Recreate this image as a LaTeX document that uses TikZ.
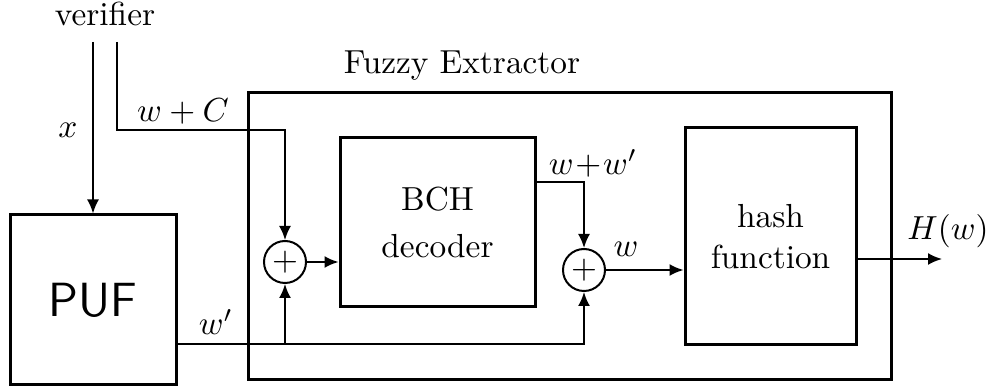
\documentclass[tikz,border=0pt]{standalone}
\usepackage{xcolor}
\usepackage{tikz}
\usetikzlibrary{arrows.meta,positioning,calc}
\usepackage{amsmath}

\begin{document}
\begin{tikzpicture}[x=0.3pt, y=-0.3pt, arr/.style={-{Latex[length=4.2pt,width=3.6pt]}, line width=0.6pt}, blk/.style={draw, line width=0.9pt, inner sep=0pt, align=center}, sumnode/.style={draw, circle, line width=0.6pt, minimum size=12.6pt, inner sep=0pt}]
	\useasboundingbox (0,0) rectangle (994,392);
	\node[blk, minimum width=192.9pt, minimum height=86.1pt] (fe) at (569.5,236.5) {};
	\node[blk, minimum width=49.8pt, minimum height=51pt, font=\sffamily\Large] (puf) at (93,300) {PUF};
	\node[blk, minimum width=58.5pt, minimum height=50.7pt] (bch) at (437.5,222.5) {BCH\\[2pt]decoder};
	\node[blk, minimum width=51.3pt, minimum height=65.1pt] (hash) at (770.5,236.5) {hash\\[0.5pt]function};
	\node[sumnode] (s1) at (285,262) {$+$};
	\node[sumnode] (s2) at (584,270) {$+$};
	\node (ver) at (105,14) {verifier};
	\node (title) at (462,66) {Fuzzy Extractor};
	\coordinate (vx) at (93,42);
	\coordinate (vc) at (117,42);
	\coordinate (wc) at (285,130);
	\coordinate (ww) at (584,182);
	\coordinate (wp) at (285,344);
	\coordinate (out) at (942,259);
	\draw[arr] (vx) -- (puf);
	\draw[arr] (vc) |- (wc) -- (s1);
	\draw[arr] (s1) -- (s1 -| bch.west);
	\draw[arr] (ww -| bch.east) -- (ww) -- (s2);
	\draw[arr] (s2) -- (s2 -| hash.west);
	\draw[arr] (out -| hash.east) -- (out);
	\draw[arr] (wp -| puf.east) -| (s2);
	\draw[arr] (wp) -- (s1);
	\node (xl) at (68,130) {$x$};
	\node (wcl) at (183,112) {$w+C$};
	\node (wpl) at (216,322) {$w'$};
	\node (wwl) at (593,163) {$w\!+\!w'$};
	\node (wl) at (626,249) {$w$};
	\node (hl) at (948,231) {$H(w)$};
\end{tikzpicture}
\end{document}
